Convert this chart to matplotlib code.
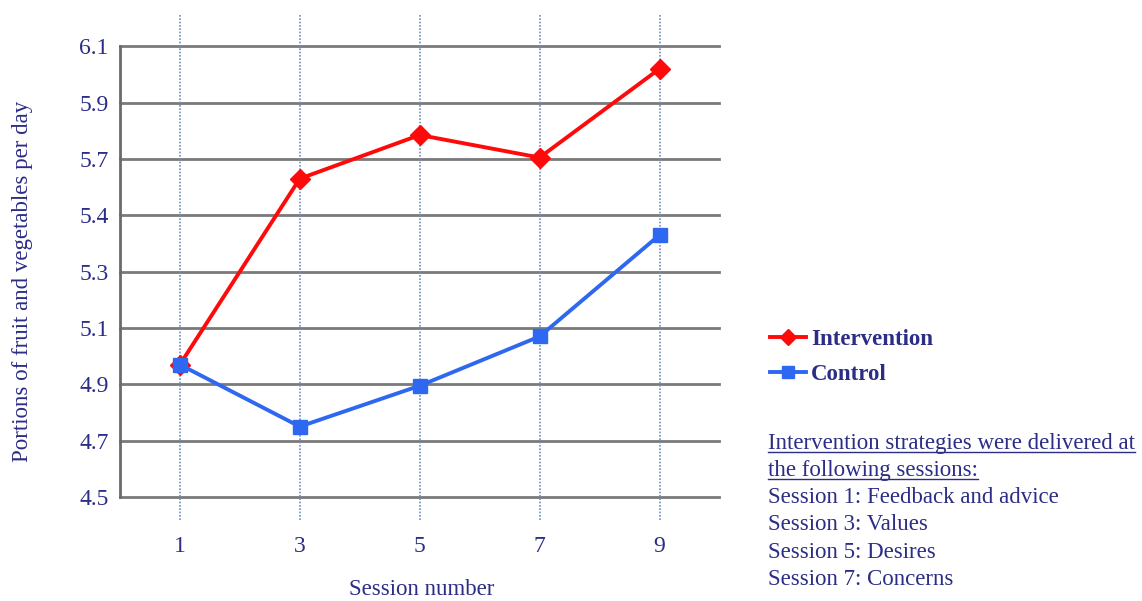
import matplotlib
matplotlib.use("Agg")
import matplotlib.pyplot as plt
from matplotlib.lines import Line2D

sessions = [1, 3, 5, 7, 9]
intervention = [4.97, 5.63, 5.785, 5.705, 6.02]
control = [4.97, 4.75, 4.895, 5.07, 5.43]
ytick_pos = [4.5, 4.7, 4.9, 5.1, 5.3, 5.5, 5.7, 5.9, 6.1]
ytick_text = ["4.5", "4.7", "4.9", "5.1", "5.3", "5.4", "5.7", "5.9", "6.1"]
notes_head = ["Intervention strategies were delivered at", "the following sessions:"]
notes_body = ["Session 1: Feedback and advice", "Session 3: Values",
              "Session 5: Desires", "Session 7: Concerns"]

navy = "#2b2d86"
red = "#ff0a0a"
blue = "#2f68f0"

plt.rcParams["font.family"] = ["Liberation Serif", "DejaVu Serif"]

fig = plt.figure(figsize=(11.42, 6.01), dpi=100)
ax = fig.add_axes([0.105, 0.173, 0.525, 0.750])
ax.set_xlim(0, 10)
ax.set_ylim(4.5, 6.1)

for y in ytick_pos:
    ax.axhline(y, color="#7a7a7a", lw=2, zorder=1, clip_on=False)
for x in sessions:
    ax.axvline(x, ymin=-0.05, ymax=1.07, color="#6d8cc8", lw=1.2,
               ls=(0, (1, 1)), zorder=1, clip_on=False)

ax.plot(sessions, intervention, color=red, lw=2.8, marker="D", ms=10,
        label="Intervention", zorder=3)
ax.plot(sessions, control, color=blue, lw=2.8, marker="s", ms=10,
        label="Control", zorder=3)

for s in ["top", "right", "bottom"]:
    ax.spines[s].set_visible(False)
ax.spines["left"].set_color("#6a6a6a")
ax.spines["left"].set_linewidth(2)

ax.set_yticks(ytick_pos)
ax.set_yticklabels(ytick_text)
ax.set_xticks(sessions)
ax.tick_params(length=0, labelsize=17, labelcolor=navy)
ax.tick_params(axis="x", pad=28)
ax.tick_params(axis="y", pad=8)
ax.set_xlabel("Session number", fontsize=16.5, color=navy)
ax.xaxis.label.set_va("center")
ax.xaxis.set_label_coords(0.503, -0.205)
ax.set_ylabel("Portions of fruit and vegetables per day", fontsize=16.5,
              color=navy)
ax.yaxis.set_label_coords(-0.145, 0.479)

leg = fig.legend(loc="upper left", bbox_to_anchor=(0.656, 0.487), frameon=False,
                 prop={"weight": "bold", "size": 16.5}, handlelength=1.6,
                 handletextpad=0.2, labelspacing=0.6, markerscale=0.8)
for t in leg.get_texts():
    t.set_color(navy)

x0 = 768 / 1142
y_start = 1 - 443 / 601
step = 27.3 / 601
lines = notes_head + notes_body
texts = []
for i, line in enumerate(lines):
    t = fig.text(x0, y_start - i * step, line, fontsize=16.5, color=navy,
                 va="center", ha="left")
    texts.append(t)

fig.canvas.draw()
r = fig.canvas.get_renderer()
inv = fig.transFigure.inverted()
for t in texts[:2]:
    bb = t.get_window_extent(r).transformed(inv)
    yy = bb.y0 + 0.003
    fig.add_artist(Line2D([bb.x0, bb.x1], [yy, yy], color=navy, lw=1.0,
                          transform=fig.transFigure))

fig.savefig("out.png", dpi=100)
